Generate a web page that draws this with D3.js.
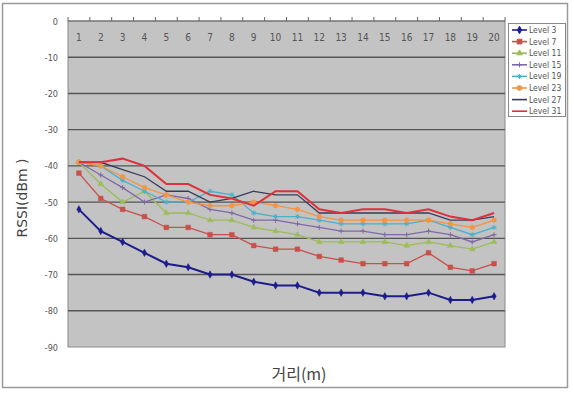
<!DOCTYPE html>
<html>
<head>
<meta charset="utf-8">
<script src="https://cdn.jsdelivr.net/npm/d3@7"></script>
<style>
  html, body { margin: 0; padding: 0; background: #fff; }
  svg { display: block; }
</style>
</head>
<body>
<svg id="chart" width="574" height="396"></svg>
<script>
// distance categories (m)
const distances = [1,2,3,4,5,6,7,8,9,10,11,12,13,14,15,16,17,18,19,20];
const yTicks = [0,-10,-20,-30,-40,-50,-60,-70,-80,-90];

const level3  = [-52,-58,-61,-64,-67,-68,-70,-70,-72,-73,-73,-75,-75,-75,-76,-76,-75,-77,-77,-76];
const level7  = [-42,-49,-52,-54,-57,-57,-59,-59,-62,-63,-63,-65,-66,-67,-67,-67,-64,-68,-69,-67];
const level11 = [-39,-45,-50,-47,-53,-53,-55,-55,-57,-58,-59,-61,-61,-61,-61,-62,-61,-62,-63,-61];
const level15 = [-39,-42.5,-46,-50,-48,-49,-52,-53,-55,-55,-56,-57,-58,-58,-59,-59,-58,-59,-61,-59];
const level19 = [-39,-40,-44,-47,-50,-50,-47,-48,-53,-54,-54,-55,-56,-56,-56,-56,-55,-57,-59,-57];
const level23 = [-39,-40,-43,-46,-48,-50,-51,-51,-50,-51,-52,-54,-55,-55,-55,-55,-55,-56,-57,-55];
const level27 = [-39,-39,-41,-43,-47,-47,-50,-49,-47,-48,-48,-53,-53,-53,-53,-53,-53,-55,-55,-54];
const level31 = [-39,-39,-38,-40,-45,-45,-48,-49,-51,-47,-47,-52,-53,-52,-52,-53,-52,-54,-55,-53];

const series = [
  {name: "Level 3",  values: level3,  color: "#1c1c8c", marker: "diamond"},
  {name: "Level 7",  values: level7,  color: "#c8504a", marker: "square"},
  {name: "Level 11", values: level11, color: "#9cbc58", marker: "triangle"},
  {name: "Level 15", values: level15, color: "#8068a8", marker: "cross"},
  {name: "Level 19", values: level19, color: "#4cb0cc", marker: "star"},
  {name: "Level 23", values: level23, color: "#f49444", marker: "circle"},
  {name: "Level 27", values: level27, color: "#3a3a5a", marker: null},
  {name: "Level 31", values: level31, color: "#e0303a", marker: null}
];

const svg = d3.select("#chart");
const plot = {left: 68, right: 505, top: 21, bottom: 347};
const narrow = "'DejaVu Sans Condensed', 'Liberation Sans Narrow', sans-serif";

// outer frame
svg.append("rect")
  .attr("x", 2.5).attr("y", 3.5)
  .attr("width", 565).attr("height", 384)
  .attr("fill", "#fff").attr("stroke", "#9a9a9a").attr("stroke-width", 1.5);

const x = d3.scaleBand().domain(distances).range([plot.left, plot.right]);
const y = d3.scaleLinear().domain([-90, 0]).range([plot.bottom, plot.top]);
const cx = d => x(d) + x.bandwidth() / 2;

// plot background
svg.append("rect")
  .attr("x", plot.left).attr("y", plot.top)
  .attr("width", plot.right - plot.left).attr("height", plot.bottom - plot.top)
  .attr("fill", "#c3c3c3").attr("stroke", "#8a8a8a");

// horizontal gridlines
svg.append("g")
  .selectAll("line")
  .data(yTicks.filter(t => t !== 0 && t !== -90))
  .enter().append("line")
  .attr("x1", plot.left).attr("x2", plot.right)
  .attr("y1", d => y(d)).attr("y2", d => y(d))
  .attr("stroke", "#555").attr("stroke-width", 1.4);

// y axis labels
svg.append("g")
  .selectAll("text")
  .data(yTicks)
  .enter().append("text")
  .attr("x", plot.left - 10)
  .attr("y", d => y(d) + 3.5)
  .attr("text-anchor", "end")
  .attr("font-family", narrow)
  .attr("font-size", 9)
  .attr("fill", "#555")
  .text(d => d);

// category axis on top (crosses at 0)
svg.append("line")
  .attr("x1", plot.left).attr("x2", plot.right)
  .attr("y1", y(0)).attr("y2", y(0))
  .attr("stroke", "#666").attr("stroke-width", 1.2);
const bounds = distances.map(d => x(d)).concat([plot.right]);
svg.append("g")
  .selectAll("line")
  .data(bounds)
  .enter().append("line")
  .attr("x1", d => d).attr("x2", d => d)
  .attr("y1", y(0)).attr("y2", y(0) - 4)
  .attr("stroke", "#666");
svg.append("g")
  .selectAll("text")
  .data(distances)
  .enter().append("text")
  .attr("x", d => cx(d))
  .attr("y", y(0) + 20)
  .attr("text-anchor", "middle")
  .attr("font-family", narrow)
  .attr("font-size", 10)
  .attr("fill", "#555")
  .text(d => d);

// lines
const line = d3.line()
  .x((v, i) => cx(distances[i]))
  .y(v => y(v));

const markerPath = {
  diamond: d3.symbol().type(d3.symbolDiamond).size(16)(),
  square: d3.symbol().type(d3.symbolSquare).size(22)(),
  triangle: d3.symbol().type(d3.symbolTriangle).size(14)(),
  circle: d3.symbol().type(d3.symbolCircle).size(18)(),
  cross: "M-2.5,0H2.5M0,-2.5V2.5",
  star: "M-2.5,0H2.5M0,-2.5V2.5M-1.8,-1.8L1.8,1.8M-1.8,1.8L1.8,-1.8"
};

series.forEach(s => {
  const g = svg.append("g");
  g.append("path")
    .datum(s.values)
    .attr("d", line)
    .attr("fill", "none")
    .attr("stroke", s.color)
    .attr("stroke-width", s.name === "Level 31" || s.name === "Level 3" ? 2 : 1.3);
  if (s.marker) {
    g.selectAll("path.m")
      .data(s.values)
      .enter().append("path")
      .attr("class", "m")
      .attr("transform", (v, i) => `translate(${cx(distances[i])},${y(v)})`)
      .attr("d", markerPath[s.marker])
      .attr("fill", s.color)
      .attr("stroke", s.color)
      .attr("stroke-width", s.marker === "cross" || s.marker === "star" ? 1 : 0.5);
  }
});

// axis titles
svg.append("text")
  .attr("transform", "translate(27,198) rotate(-90)")
  .attr("text-anchor", "middle")
  .attr("font-family", "'DejaVu Sans', sans-serif")
  .attr("font-size", 14)
  .attr("fill", "#444")
  .text("RSSI(dBm )");

svg.append("text")
  .attr("x", 299).attr("y", 380)
  .attr("text-anchor", "middle")
  .attr("font-family", "'Noto Sans CJK KR', sans-serif")
  .attr("font-size", 16)
  .attr("fill", "#444")
  .text("거리(m)");

// legend
const legend = svg.append("g");
legend.append("rect")
  .attr("x", 508.5).attr("y", 23.5)
  .attr("width", 57).attr("height", 93)
  .attr("fill", "#fff").attr("stroke", "#888");
series.forEach((s, i) => {
  const ly = 30 + i * 11.6;
  legend.append("line")
    .attr("x1", 512).attr("x2", 527)
    .attr("y1", ly).attr("y2", ly)
    .attr("stroke", s.color).attr("stroke-width", 1.6);
  if (s.marker) {
    legend.append("path")
      .attr("transform", `translate(519.5,${ly})`)
      .attr("d", markerPath[s.marker])
      .attr("fill", s.color)
      .attr("stroke", s.color)
      .attr("stroke-width", 1);
  }
  legend.append("text")
    .attr("x", 529).attr("y", ly + 3)
    .attr("font-family", narrow)
    .attr("font-size", 8.5)
    .attr("fill", "#555")
    .text(s.name);
});
</script>
</body>
</html>
